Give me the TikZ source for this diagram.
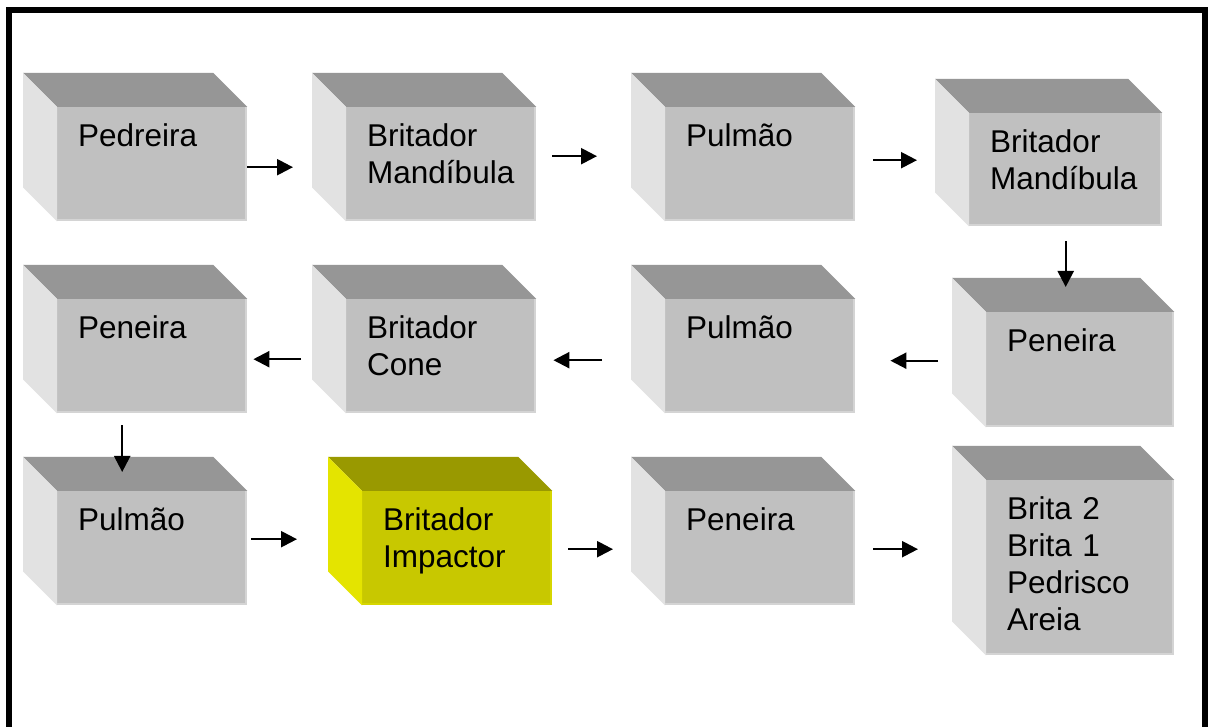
\documentclass[tikz,border=0pt]{standalone}
\usepackage{fontspec}
\setmainfont{Liberation Sans}
\usetikzlibrary{arrows.meta}
\definecolor{cinzafrente}{RGB}{192,192,192}
\definecolor{cinzatopo}{RGB}{150,150,150}
\definecolor{cinzalado}{RGB}{226,226,226}
\definecolor{cinzaborda}{RGB}{212,212,212}
\definecolor{amarelofrente}{RGB}{200,200,0}
\definecolor{amarelotopo}{RGB}{153,153,0}
\definecolor{amarelolado}{RGB}{228,228,0}
\definecolor{amareloborda}{RGB}{214,214,0}

\tikzset{
  frente/.style={fill=#1frente, inner sep=0pt, anchor=north west},
  rotulo/.style={anchor=base west, align=left, text width=170pt, inner sep=0pt, font=\fontsize{31.5}{37}\selectfont},
  seta/.style={-{Triangle[length=16pt,width=16pt]}, line width=2.3pt}
}

\newcommand{\cubo}[6][cinza]{%
  \node[frente=#1, minimum width=#4pt, minimum height=#5pt] (#2) at (#3) {};
  \fill[#1topo] (#2.north west) -- ++(-34,34) -- ([shift={(-34,34)}]#2.north east) -- (#2.north east) -- cycle;
  \fill[#1lado] (#2.north west) -- ++(-34,34) -- ([shift={(-34,34)}]#2.south west) -- (#2.south west) -- cycle;
  \draw[#1borda, line width=2pt] ([xshift=-1pt]#2.north east) -- ([shift={(-1,1)}]#2.south east) -- ([yshift=1pt]#2.south west);
  \node[rotulo] (#2-t) at ([shift={(21,-40)}]#2.north west) {#6};
}

\begin{document}
\begin{tikzpicture}[x=1pt,y=1pt]
\useasboundingbox (0,0) rectangle (1210,727);
\fill[white] (0,0) rectangle (1210,727);
\draw[line width=6pt] (9,-30) rectangle (1205,716.5);

\cubo{pedreira}{57,620}{190}{114}{Pedreira}
\cubo{britadorM1}{346,620}{190}{114}{Britador\\Mandíbula}
\cubo{pulmao1}{665,620}{190}{114}{Pulmão}
\cubo{britadorM2}{969,614}{193}{113}{Britador\\Mandíbula}
\cubo{peneira1}{986,415}{188}{115}{Peneira}
\cubo{pulmao2}{665,428}{190}{114}{Pulmão}
\cubo{britadorCone}{346,428}{190}{114}{Britador\\Cone}
\cubo{peneira2}{57,428}{190}{114}{Peneira}
\cubo{pulmao3}{57,236}{190}{114}{Pulmão}
\cubo[amarelo]{impactor}{362,236}{190}{114}{Britador\\Impactor}
\cubo{peneira3}{665,236}{190}{114}{Peneira}
\cubo{produtos}{986,247}{188}{175}{Brita 2\\Brita 1\\Pedrisco\\Areia}

\draw[seta, shorten >=53pt] ([yshift=-3pt]pedreira.east) -- ([yshift=-3pt]pedreira.east -| britadorM1.west);
\draw[seta, shorten <=16pt, shorten >=68pt] ([yshift=8pt]britadorM1.east) -- ([yshift=8pt]britadorM1.east -| pulmao1.west);
\draw[seta, shorten <=18pt, shorten >=52pt] ([yshift=4pt]pulmao1.east) -- ([yshift=4pt]pulmao1.east -| britadorM2.west);
\draw[seta, shorten <=15pt, shorten >=25pt] (britadorM2.south) -- (britadorM2.south |- peneira1.north);
\draw[seta, shorten <=48pt, shorten >=35pt] ([yshift=9pt]peneira1.west) -- ([yshift=9pt]peneira1.west -| pulmao2.east);
\draw[seta, shorten <=63pt, shorten >=17pt] ([yshift=-4pt]pulmao2.west) -- ([yshift=-4pt]pulmao2.west -| britadorCone.east);
\draw[seta, shorten <=45pt, shorten >=6pt] ([yshift=-3pt]britadorCone.west) -- ([yshift=-3pt]britadorCone.west -| peneira2.east);
\draw[seta, shorten <=12pt, shorten >=19pt] ([xshift=-30pt]peneira2.south) -- ([xshift=-30pt]peneira2.south |- pulmao3.north);
\draw[seta, shorten <=4pt, shorten >=65pt] ([yshift=9pt]pulmao3.east) -- ([yshift=9pt]pulmao3.east -| impactor.west);
\draw[seta, shorten <=16pt, shorten >=52pt] ([yshift=-1pt]impactor.east) -- ([yshift=-1pt]impactor.east -| peneira3.west);
\draw[seta, shorten <=18pt, shorten >=68pt] ([yshift=-1pt]peneira3.east) -- ([yshift=-1pt]peneira3.east -| produtos.west);
\end{tikzpicture}
\end{document}
